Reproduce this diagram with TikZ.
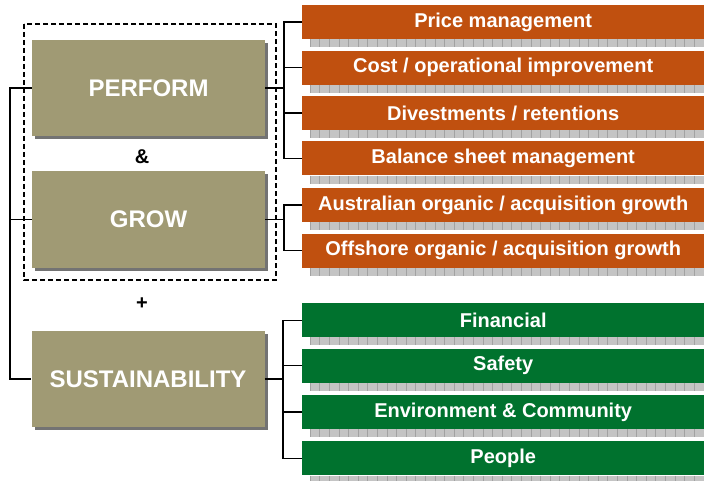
\documentclass[tikz,border=0pt]{standalone}
\usepackage{fontspec}
\setmainfont{Liberation Sans}
\usetikzlibrary{positioning,shadows}
\definecolor{khaki}{HTML}{A09A74}
\definecolor{rust}{HTML}{C0500F}
\definecolor{leaf}{HTML}{00722E}
\definecolor{stripgray}{HTML}{C4C4C4}
\definecolor{stripline}{HTML}{A2A2A2}
\tikzset{ >=latex }
\def\barW{402}		% width of the coloured bars
\def\barH{34}		% height of the coloured bars
\def\gap{11pt}		% space between bars
\def\pbusX{284}		% x of the bus on the right of PERFORM / GROW
\def\sbusX{283}		% x of the bus on the right of SUSTAINABILITY
\tikzset{
	pillar/.style={fill=khaki, text=white, inner sep=0pt,
		minimum width=233pt, minimum height=96pt,
		font=\fontsize{24}{28}\selectfont\bfseries,
		drop shadow={shadow xshift=3pt, shadow yshift=-3pt, fill=gray!90!black, opacity=1}},
	bar/.style={text=white, inner sep=0pt, anchor=north west,
		minimum width=\barW pt, minimum height=\barH pt,
		font=\fontsize{20}{24}\selectfont\bfseries},
	orangebar/.style={bar, fill=rust},
	greenbar/.style={bar, fill=leaf},
	link/.style={line width=1.4pt, black},
	frame/.style={line width=1.4pt, dash pattern=on 5pt off 3pt},
	sign/.style={font=\fontsize{20}{24}\selectfont\bfseries}
}
% grey grid strip under a bar
\newcommand\DrawStrip[1]{
	\fill[stripgray] ([xshift=8pt]#1.south west) rectangle ([yshift=-8pt]#1.south east);
	\foreach \x in {0,9.6,...,392}
		\draw[stripline, line width=0.4pt] ([xshift=8pt+\x pt]#1.south west) -- ++(0,8);
}

\begin{document}
\begin{tikzpicture}[x=1pt, y=-1pt]
	\useasboundingbox (0,0) rectangle (704,481);
	% Main pillars
	\node[pillar] (perform) at (148.5,88)  {PERFORM};
	\node[pillar] (grow)    at (148.5,219.5) {GROW};
	\node[pillar] (sustain) at (148,379)  {SUSTAINABILITY};
	\node[sign] (amp)  at (142,157) {\&};
	\node[sign] (plus) at (142,304) {+};
	\draw[frame] (24,24) rectangle (276,280);		% PERFORM & GROW group
	% Orange bars
	\node[orangebar] (price)   at (302,5) {Price management};
	\node[orangebar, below=\gap of price]  (cost)    {Cost / operational improvement};
	\node[orangebar, below=\gap of cost]   (divest)  {Divestments / retentions};
	\node[orangebar, below=\gap of divest] (balance) {Balance sheet management};
	\node[orangebar] (aus)      at (302,188) {Australian organic / acquisition growth};
	\node[orangebar, below=\gap of aus]    (offshore) {Offshore organic / acquisition growth};
	% Green bars
	\node[greenbar] (financial) at (302,303) {Financial};
	\node[greenbar, below=\gap of financial] (safety) {Safety};
	\node[greenbar, below=12pt of safety]    (environ) {Environment \& Community};
	\node[greenbar, below=12pt of environ]   (people) {People};
	% Grid strips
	\foreach \n in {price,cost,divest,balance,aus,offshore,financial,safety,environ,people}
		{ \DrawStrip{\n} }
	% Bus coordinates
	\coordinate (lbus) at (10,0);
	\coordinate (pbus) at (\pbusX,0);
	\coordinate (sbus) at (\sbusX,0);
	% Left bus joining the pillars
	\draw[link] (perform.west) -- (perform.west -| lbus) |- (sustain.west);
	\draw[link] (grow.west) -- (grow.west -| lbus);
	% PERFORM branches
	\draw[link] (price.west) -- (price.west -| pbus) |- (balance.west);
	\draw[link] (perform.east) -- (perform.east -| pbus);
	\foreach \n in {cost,divest}
		\draw[link] (\n.west) -- (\n.west -| pbus);
	% GROW branches
	\draw[link] (aus.west) -- (aus.west -| pbus) |- (offshore.west);
	\draw[link] (grow.east) -- (grow.east -| pbus);
	% SUSTAINABILITY branches
	\draw[link] (financial.west) -- (financial.west -| sbus) |- (people.west);
	\draw[link] (sustain.east) -- (sustain.east -| sbus);
	\foreach \n in {safety,environ}
		\draw[link] (\n.west) -- (\n.west -| sbus);
\end{tikzpicture}
\end{document}
